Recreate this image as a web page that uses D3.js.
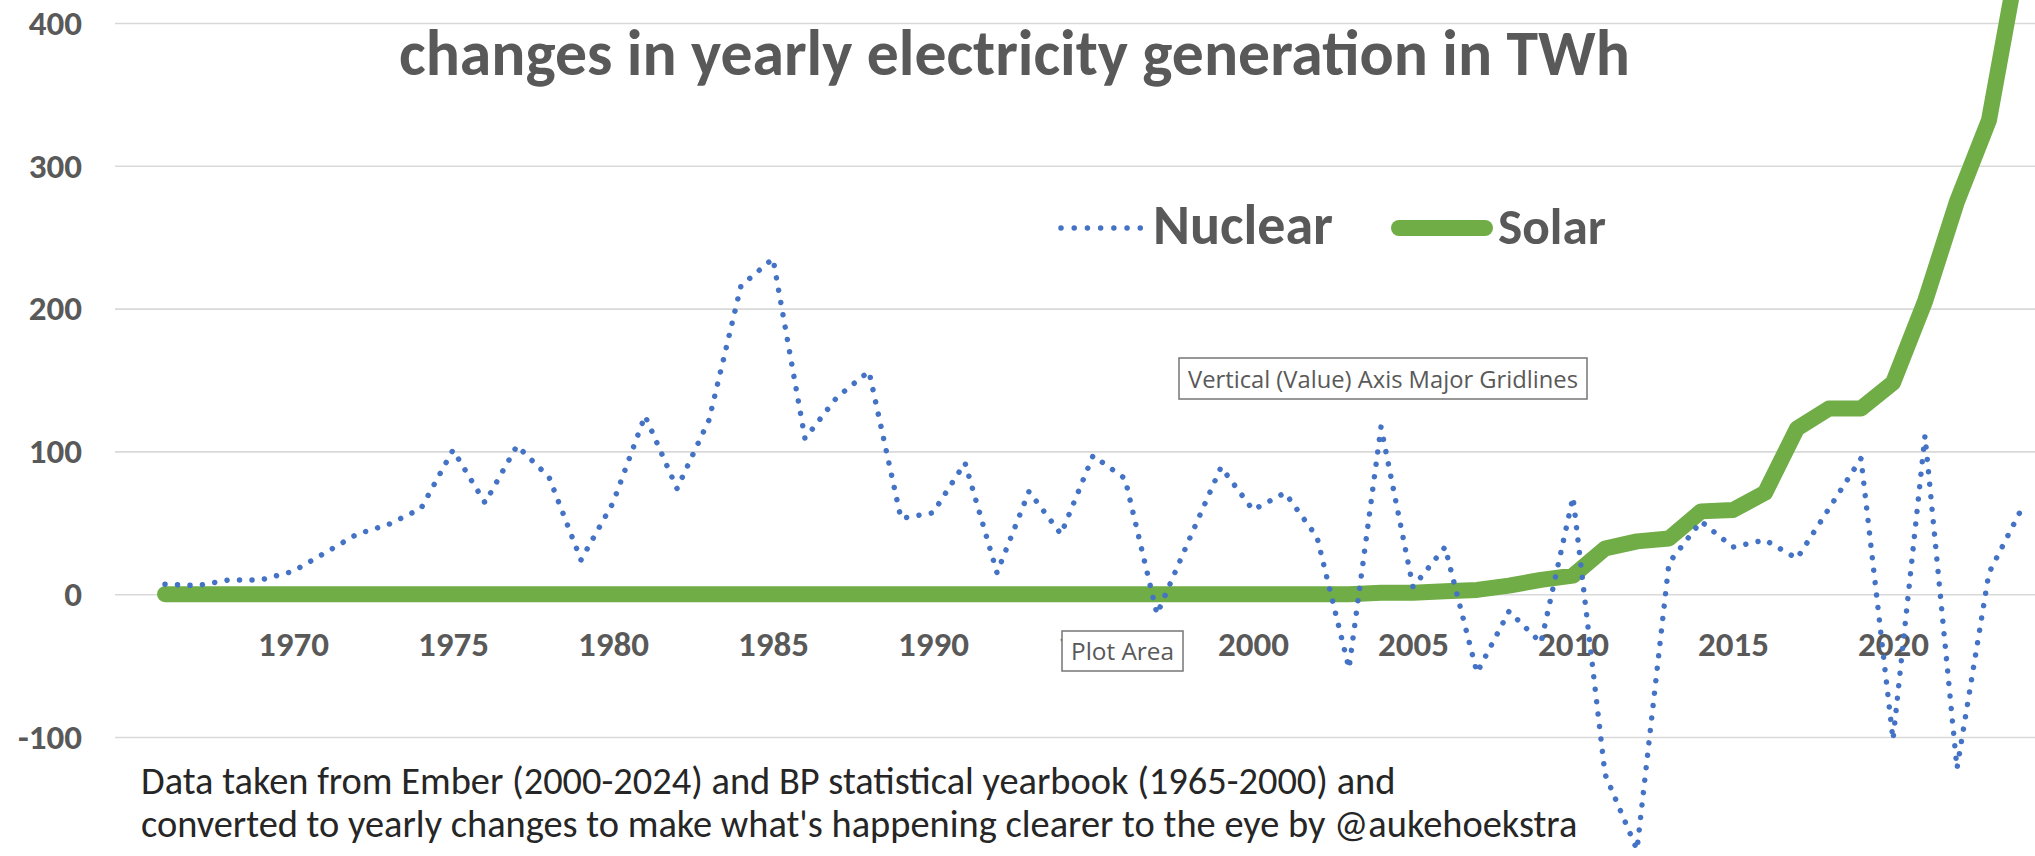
<!DOCTYPE html>
<html><head><meta charset="utf-8">
<script src="https://cdn.jsdelivr.net/npm/d3@7"></script>
<style>body{margin:0;background:#fff;} svg{display:block;}</style>
</head><body><svg id="chart" width="2035" height="856"></svg>
<script>
const years = [1966,1967,1968,1969,1970,1971,1972,1973,1974,1975,1976,1977,1978,1979,1980,1981,1982,1983,1984,1985,1986,1987,1988,1989,1990,1991,1992,1993,1994,1995,1996,1997,1998,1999,2000,2001,2002,2003,2004,2005,2006,2007,2008,2009,2010,2011,2012,2013,2014,2015,2016,2017,2018,2019,2020,2021,2022,2023,2024];
const nuclear = [7,6,10,10,16,29,42,49,60,101,64,104,82,24,64,125,74,122,216,235,109,138,156,53,57,92,15,72,42,97,81,-14,38,89,59,71,40,-52,117,5,33,-55,-12,-34,68,-126,-179,22,51,33,38,25,60,95,-102,111,-122,15,59];
const solar = [0,0,0,0,0,0,0,0,0,0,0,0,0,0,0,0,0,0,0,0,0,0,0,0,0,0,0,0,0,0,0,0,0,0,0,0,0,0,1,1,2,3,6,10,13,32,37,39,58,59,71,116,130,130,148,205,275,332,455];
const yTicks = [-100,0,100,200,300,400];
const xTicks = [1970,1975,1980,1985,1990,1995,2000,2005,2010,2015,2020];
const titleText = "changes in yearly electricity generation in TWh";
const legendItems = ["Nuclear","Solar"];
const noteLines = ["Data taken from Ember (2000-2024) and BP statistical yearbook (1965-2000) and",
  "converted to yearly changes to make what's happening clearer to the eye by @aukehoekstra"];
const tipGrid = "Vertical (Value) Axis Major Gridlines";
const tipPlot = "Plot Area";

const W = 2035, H = 856;
const svg = d3.select("#chart");
const FONT = "Carlito, Calibri, Lato, sans-serif";
const GREY = "#595959";
const BLUE = "#4472C4", GREEN = "#70AD47";

const x = d3.scaleLinear().domain([1970, 2020]).range([293, 1893]);
const y = d3.scaleLinear().domain([-100, 400]).range([737, 23]);
const gridLeft = 115;
const fmt = d => String(d); // plain hyphen for negatives, as in the reference

function fitText(sel, target) {
  const n = sel.node();
  const fs = parseFloat(sel.attr("font-size"));
  const w = n.getComputedTextLength();
  const nf = fs * target / w;
  sel.attr("font-size", nf.toFixed(2));
  return nf;
}

// gridlines + y labels
const gy = svg.append("g").attr("transform", `translate(${gridLeft},0)`)
  .call(d3.axisLeft(y).tickValues(yTicks).tickSize(-(W - gridLeft)).tickPadding(33).tickFormat(fmt));
gy.select(".domain").remove();
gy.selectAll(".tick line").attr("stroke", "#d9d9d9").attr("stroke-width", 1.6);
gy.selectAll(".tick text").attr("font-family", FONT).attr("font-size", 35).attr("font-weight", "bold").attr("fill", GREY);

// x labels
const gx = svg.append("g").attr("transform", `translate(0,${y(0)})`)
  .call(d3.axisBottom(x).tickValues(xTicks).tickSize(0).tickPadding(37).tickFormat(fmt));
gx.select(".domain").remove();
gx.selectAll(".tick text").attr("font-family", FONT).attr("font-size", 35).attr("font-weight", "bold").attr("fill", GREY);

// title
const title = svg.append("text").attr("x", 399).attr("y", 75).attr("font-family", FONT)
  .attr("font-weight", "bold").attr("font-size", 58).attr("fill", GREY).text(titleText);
fitText(title, 1231);

// lines
const line = (arr) => d3.line().x((d, i) => x(years[i])).y(d => y(d))(arr);
svg.append("path").attr("d", line(solar)).attr("fill", "none").attr("stroke", GREEN)
  .attr("stroke-width", 16).attr("stroke-linejoin", "round").attr("stroke-linecap", "round");
svg.append("path").attr("d", line(nuclear)).attr("fill", "none").attr("stroke", BLUE)
  .attr("stroke-width", 5.5).attr("stroke-linecap", "round").attr("stroke-linejoin", "round")
  .attr("stroke-dasharray", "0.01 12.5");

// legend
const lg = svg.append("g");
lg.append("line").attr("x1", 1061).attr("x2", 1142).attr("y1", 228).attr("y2", 228)
  .attr("stroke", BLUE).attr("stroke-width", 5.5).attr("stroke-linecap", "round").attr("stroke-dasharray", "0.01 13.2");
const t1 = lg.append("text").attr("x", 1153).attr("y", 244).attr("font-family", FONT).attr("font-weight", "bold")
  .attr("font-size", 50).attr("fill", GREY).text(legendItems[0]);
fitText(t1, 180);
lg.append("line").attr("x1", 1399).attr("x2", 1485).attr("y1", 228).attr("y2", 228)
  .attr("stroke", GREEN).attr("stroke-width", 16).attr("stroke-linecap", "round");
const t2 = lg.append("text").attr("x", 1498).attr("y", 244).attr("font-family", FONT).attr("font-weight", "bold")
  .attr("font-size", 50).attr("fill", GREY).text(legendItems[1]);
fitText(t2, 108);

// tooltips
function tip(x0, y0, w, h, txt) {
  const g = svg.append("g");
  g.append("rect").attr("x", x0).attr("y", y0).attr("width", w).attr("height", h)
    .attr("fill", "#fff").attr("stroke", "#767676").attr("stroke-width", 1.5);
  const t = g.append("text").attr("x", x0 + 9).attr("y", y0 + h / 2 + 9).attr("font-family", "'Open Sans', sans-serif")
    .attr("font-size", 26).attr("fill", GREY).text(txt);
  fitText(t, w - 18);
}
tip(1179, 358, 408, 41, tipGrid);
tip(1062, 631, 121, 40, tipPlot);

// footnote
const notes = noteLines.map((s, i) => svg.append("text").attr("x", 141).attr("y", 794 + i * 43)
  .attr("font-family", FONT).attr("font-size", 34).attr("fill", "#262626").text(s));
const nfs = fitText(notes[1], 1437);
notes[0].attr("font-size", nfs.toFixed(2));
</script></body></html>
